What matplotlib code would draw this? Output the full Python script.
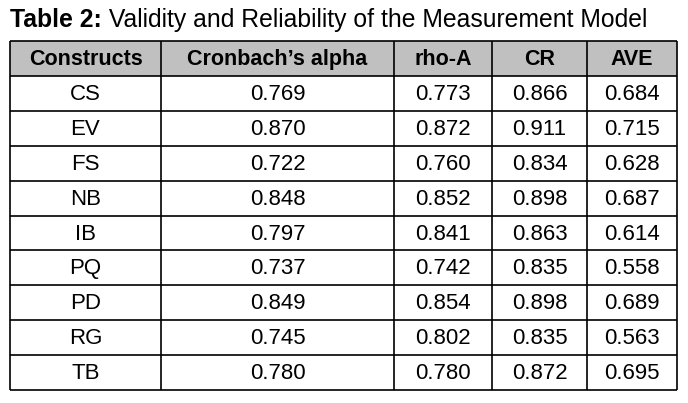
import matplotlib.pyplot as plt
from matplotlib.patches import Rectangle

title_bold = 'Table 2:'
title_rest = ' Validity and Reliability of the Measurement Model'

columns = ['Constructs', "Cronbach\u2019s alpha", 'rho-A', 'CR', 'AVE']
constructs = ['CS', 'EV', 'FS', 'NB', 'IB', 'PQ', 'PD', 'RG', 'TB']
cronbach = ['0.769', '0.870', '0.722', '0.848', '0.797', '0.737', '0.849', '0.745', '0.780']
rho_a = ['0.773', '0.872', '0.760', '0.852', '0.841', '0.742', '0.854', '0.802', '0.780']
cr = ['0.866', '0.911', '0.834', '0.898', '0.863', '0.835', '0.898', '0.835', '0.872']
ave = ['0.684', '0.715', '0.628', '0.687', '0.614', '0.558', '0.689', '0.563', '0.695']

plt.rcParams['font.family'] = ['Liberation Sans', 'DejaVu Sans']

W, H = 688, 403
fig = plt.figure(figsize=(W / 100, H / 100), dpi=100)
ax = fig.add_axes([0, 0, 1, 1])
ax.set_xlim(0, W)
ax.set_ylim(H, 0)
ax.axis('off')

# layout in pixels
col_x = [10, 161, 394, 492, 587, 677]
top, head_bot, bottom = 41, 76, 390
n = len(constructs)
row_h = (bottom - head_bot) / n

# title: bold part then regular part right after it
t = ax.text(10, 20, title_bold, fontsize=17.8, fontweight='bold', va='center', ha='left')
fig.canvas.draw()
bb = t.get_window_extent(renderer=fig.canvas.get_renderer())
x_end = ax.transData.inverted().transform((bb.x1, bb.y0))[0]
ax.text(x_end, 20, title_rest, fontsize=17.8, va='center', ha='left')

# header background
ax.add_patch(Rectangle((col_x[0], top), col_x[-1] - col_x[0], head_bot - top,
                       facecolor='#c0c0c0', edgecolor='none'))

lw = 1.2
for y in [top, head_bot] + [head_bot + row_h * (i + 1) for i in range(n)]:
    ax.plot([col_x[0], col_x[-1]], [y, y], color='black', lw=lw, solid_capstyle='butt')
for x in col_x:
    ax.plot([x, x], [top, bottom], color='black', lw=lw, solid_capstyle='butt')

for j, c in enumerate(columns):
    cx = (col_x[j] + col_x[j + 1]) / 2
    ax.text(cx, (top + head_bot) / 2 + 1, c, fontsize=15.5, fontweight='bold',
            ha='center', va='center')

cols = [constructs, cronbach, rho_a, cr, ave]
for i in range(n):
    cy = head_bot + row_h * (i + 0.5) + 1
    for j, vals in enumerate(cols):
        cx = (col_x[j] + col_x[j + 1]) / 2
        ax.text(cx, cy, vals[i], fontsize=16, ha='center', va='center')

fig.savefig('out.png', dpi=100)
